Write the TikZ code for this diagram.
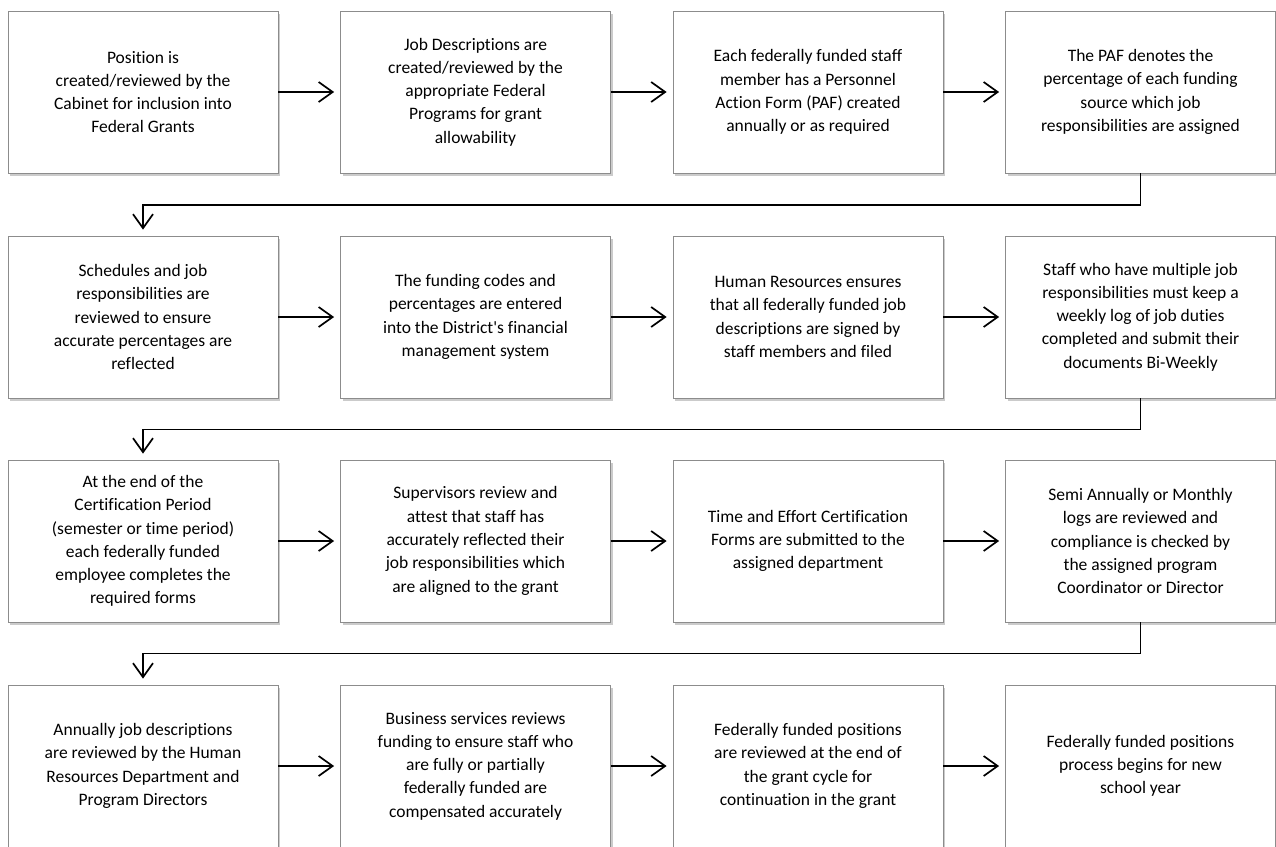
\documentclass[tikz,border=0pt]{standalone}
\usepackage{fontspec}
\setmainfont{Carlito}[Ligatures=CommonOff]
\usetikzlibrary{arrows.meta,shadows}
\tikzset{
	taskbox/.style={draw=black!45, line width=0.8pt, fill=white,
		minimum width=270pt, minimum height=162pt, inner sep=0pt,
		align=center, font=\fontsize{17.5pt}{23.3pt}\selectfont,
		drop shadow={shadow xshift=2pt, shadow yshift=-3pt, fill=black!45, opacity=0.45}},
	flowarrow/.style={-{Straight Barb[length=14pt,width=20pt]}, line width=1.7pt, shorten >=6pt}
}
\begin{document}
\begin{tikzpicture}
\useasboundingbox (0,0) rectangle (1276pt,-846pt);
\path
	(143pt,-92pt) node [taskbox] (s1) {Position is\\created/reviewed by the\\Cabinet for inclusion into\\Federal Grants}
	(475.5pt,-92pt) node [taskbox] (s2) {Job Descriptions are\\created/reviewed by the\\appropriate Federal\\Programs for grant\\allowability}
	(808pt,-92pt) node [taskbox] (s3) {Each federally funded staff\\member has a Personnel\\Action Form (PAF) created\\annually or as required}
	(1140.5pt,-92pt) node [taskbox] (s4) {The PAF denotes the\\percentage of each funding\\source which job\\responsibilities are assigned};
\path
	(143pt,-317pt) node [taskbox] (s5) {Schedules and job\\responsibilities are\\reviewed to ensure\\accurate percentages are\\reflected}
	(475.5pt,-317pt) node [taskbox] (s6) {The funding codes and\\percentages are entered\\into the District\textquotesingle s financial\\management system}
	(808pt,-317pt) node [taskbox] (s7) {Human Resources ensures\\that all federally funded job\\descriptions are signed by\\staff members and filed}
	(1140.5pt,-317pt) node [taskbox] (s8) {Staff who have multiple job\\responsibilities must keep a\\weekly log of job duties\\completed and submit their\\documents Bi-Weekly};
\path
	(143pt,-541pt) node [taskbox] (s9) {At the end of the\\Certification Period\\(semester or time period)\\each federally funded\\employee completes the\\required forms}
	(475.5pt,-541pt) node [taskbox] (s10) {Supervisors review and\\attest that staff has\\accurately reflected their\\job responsibilities which\\are aligned to the grant}
	(808pt,-541pt) node [taskbox] (s11) {Time and Effort Certification\\Forms are submitted to the\\assigned department}
	(1140.5pt,-541pt) node [taskbox] (s12) {Semi Annually or Monthly\\logs are reviewed and\\compliance is checked by\\the assigned program\\Coordinator or Director};
\path
	(143pt,-766pt) node [taskbox] (s13) {Annually job descriptions\\are reviewed by the Human\\Resources Department and\\Program Directors}
	(475.5pt,-766pt) node [taskbox] (s14) {Business services reviews\\funding to ensure staff who\\are fully or partially\\federally funded are\\compensated accurately}
	(808pt,-766pt) node [taskbox] (s15) {Federally funded positions\\are reviewed at the end of\\the grant cycle for\\continuation in the grant}
	(1140.5pt,-766pt) node [taskbox] (s16) {Federally funded positions\\process begins for new\\school year};
% steps along each row
\draw[flowarrow] (s1) -- (s2);
\draw[flowarrow] (s2) -- (s3);
\draw[flowarrow] (s3) -- (s4);
\draw[flowarrow] (s5) -- (s6);
\draw[flowarrow] (s6) -- (s7);
\draw[flowarrow] (s7) -- (s8);
\draw[flowarrow] (s9) -- (s10);
\draw[flowarrow] (s10) -- (s11);
\draw[flowarrow] (s11) -- (s12);
\draw[flowarrow] (s13) -- (s14);
\draw[flowarrow] (s14) -- (s15);
\draw[flowarrow] (s15) -- (s16);
% back to the start of the next row
\draw[flowarrow] (s4.south) -- ++(0,-31.5pt) -| (s5.north);
\draw[flowarrow] (s8.south) -- ++(0,-31pt) -| (s9.north);
\draw[flowarrow] (s12.south) -- ++(0,-31pt) -| (s13.north);
\end{tikzpicture}
\end{document}
